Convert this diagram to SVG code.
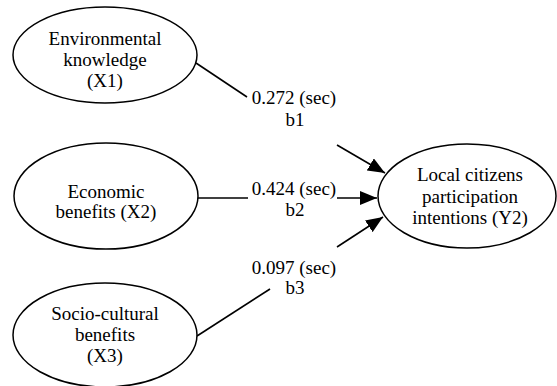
<svg xmlns="http://www.w3.org/2000/svg" width="557" height="386" viewBox="0 0 557 386">
<style>
.node ellipse{fill:#fff;stroke:#000;stroke-width:1.5}
text{font-family:"Liberation Serif","Times New Roman",serif;font-size:19px;fill:#000;text-anchor:middle}
.conn line{stroke:#000;stroke-width:1.6}
</style>
<defs>
<marker id="ah" markerUnits="userSpaceOnUse" markerWidth="18" markerHeight="14" refX="17" refY="7" orient="auto">
<path d="M0,0 L17,7 L0,14 z" fill="#000"/>
</marker>
</defs>
<rect width="557" height="386" fill="#fff"/>
<g id="x1" class="node">
<ellipse cx="105" cy="55" rx="92" ry="48"/>
<text x="105" y="45">Environmental</text>
<text x="105" y="66">knowledge</text>
<text x="105" y="87">(X1)</text>
</g>
<g id="x2" class="node">
<ellipse cx="106" cy="196" rx="92" ry="53"/>
<text x="106" y="198">Economic</text>
<text x="106" y="218">benefits (X2)</text>
</g>
<g id="x3" class="node">
<ellipse cx="105" cy="335" rx="92" ry="52"/>
<text x="105" y="320">Socio-cultural</text>
<text x="105" y="341">benefits</text>
<text x="105" y="362">(X3)</text>
</g>
<g id="y2" class="node">
<ellipse cx="467" cy="196" rx="89" ry="52"/>
<text x="470" y="181">Local citizens</text>
<text x="470" y="203">participation</text>
<text x="470" y="224">intentions (Y2)</text>
</g>
<g id="connectors" class="conn">
<line x1="196" y1="63" x2="247" y2="97"/>
<line x1="198" y1="198" x2="248" y2="198"/>
<line x1="197" y1="336" x2="270" y2="289"/>
<line x1="337" y1="145" x2="385" y2="173" marker-end="url(#ah)"/>
<line x1="337" y1="198" x2="377" y2="198" marker-end="url(#ah)"/>
<line x1="337" y1="247" x2="383" y2="217" marker-end="url(#ah)"/>
<text x="294" y="104">0.272 (sec)</text>
<text x="295" y="126">b1</text>
<text x="294" y="195">0.424 (sec)</text>
<text x="295" y="216">b2</text>
<text x="294" y="274">0.097 (sec)</text>
<text x="295" y="294">b3</text>
</g>
</svg>
